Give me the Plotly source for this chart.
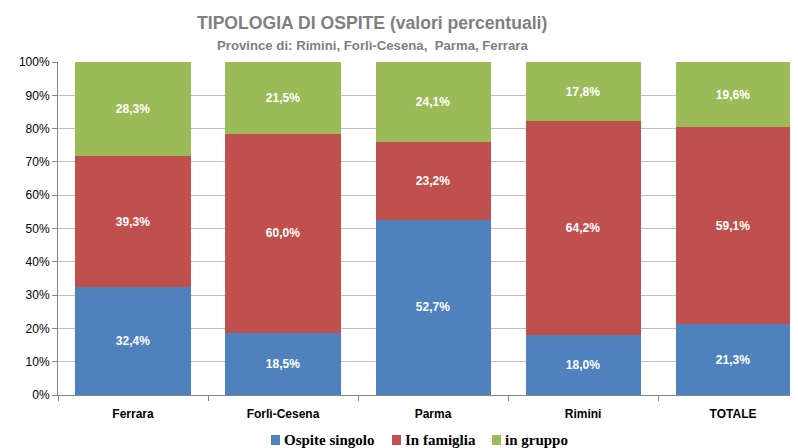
import plotly.graph_objects as go

categories = ["Ferrara", "Forlì-Cesena", "Parma", "Rimini", "TOTALE"]
ospite_singolo = [32.4, 18.5, 52.7, 18.0, 21.3]
in_famiglia = [39.3, 60.0, 23.2, 64.2, 59.1]
in_gruppo = [28.3, 21.5, 24.1, 17.8, 19.6]
y_ticks = [0, 10, 20, 30, 40, 50, 60, 70, 80, 90, 100]

series_names = ["Ospite singolo", "In famiglia", "in gruppo"]
series_values = [ospite_singolo, in_famiglia, in_gruppo]
series_colors = ["#4F81BD", "#C0504D", "#9BBB59"]

# figure geometry (page body has an 8px margin; figure sized to end at the window edge)
W, H = 790, 440
ML, MR, MT, MB = 50, 0, 54, 53
PW, PH = W - ML - MR, H - MT - MB


def px(x):
    return (x - ML) / PW


def py(y):
    return (H - MB - y) / PH


fig = go.Figure()
for name, vals, col in zip(series_names, series_values, series_colors):
    fig.add_trace(go.Bar(
        x=categories, y=vals, name=name, showlegend=False,
        marker=dict(color=col, line=dict(width=0)),
        text=[f"{v:.1f}%".replace(".", ",") for v in vals],
        texttemplate="<b>%{text}</b>",
        textposition="inside", insidetextanchor="middle",
        textfont=dict(color="white", size=12, family="Liberation Sans"),
        width=0.767,
    ))

fig.update_layout(
    barmode="stack",
    width=W, height=H,
    margin=dict(l=ML, r=MR, t=MT, b=MB, autoexpand=False),
    paper_bgcolor="white", plot_bgcolor="white",
    font=dict(family="Liberation Sans", color="#000000"),
    uniformtext=dict(minsize=8, mode="show"),
)
fig.update_xaxes(
    range=[-0.5, 4.433], showgrid=False, automargin=False,
    showline=True, linecolor="#868686", linewidth=1,
    ticks="outside", tickson="boundaries", tickcolor="#868686", ticklen=5,
    ticklabelstandoff=8,
    tickvals=categories, ticktext=[f"<b>{c}</b>" for c in categories],
    tickfont=dict(size=12, family="Liberation Sans", color="#000"),
)
fig.update_yaxes(
    range=[0, 100], tickvals=y_ticks, ticktext=[f"{v}%" for v in y_ticks],
    showgrid=True, gridcolor="#BFBFBF", gridwidth=1, automargin=False,
    showline=True, linecolor="#868686", linewidth=1,
    ticks="outside", tickcolor="#868686", ticklen=5,
    tickfont=dict(size=12, family="Liberation Sans", color="#000"),
    zeroline=False,
)
fig.add_annotation(text="<b>TIPOLOGIA DI OSPITE (valori percentuali)</b>",
                   xref="paper", yref="paper", x=px(364), y=py(15),
                   showarrow=False, yanchor="middle", xanchor="center",
                   font=dict(size=17.6, family="Liberation Sans", color="#7F7F7F"))
fig.add_annotation(text="<b>Province di: Rimini, Forlì-Cesena,  Parma, Ferrara</b>",
                   xref="paper", yref="paper", x=px(364), y=py(38),
                   showarrow=False, yanchor="middle", xanchor="center",
                   font=dict(size=13.2, family="Liberation Sans", color="#7F7F7F"))

# legend: square + label
legend_x = [263, 384, 484]
for name, col, lx in zip(series_names, series_colors, legend_x):
    fig.add_shape(type="rect", xref="paper", yref="paper",
                  x0=px(lx), x1=px(lx + 9), y0=py(437), y1=py(427),
                  fillcolor=col, line=dict(width=0))
    fig.add_annotation(text=f"<b>{name}</b>", xref="paper", yref="paper",
                       x=px(lx + 11), y=py(432), xanchor="left", yanchor="middle",
                       showarrow=False,
                       font=dict(family="Liberation Serif", size=15, color="#000"))
fig.write_html("out.html")
